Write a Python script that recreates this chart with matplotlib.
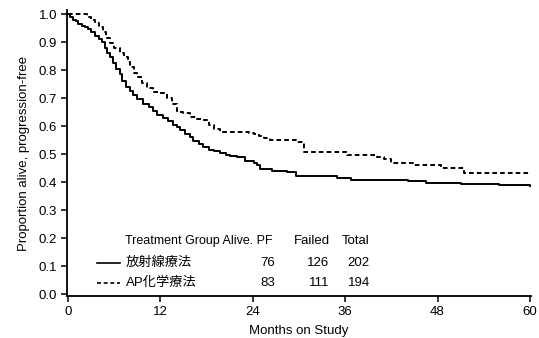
import numpy as np
import matplotlib
matplotlib.use("Agg")
import matplotlib.pyplot as plt

# fonts: Helvetica-like plus Japanese fallback
plt.rcParams['font.family'] = ['Liberation Sans', 'Noto Sans CJK JP']

# Kaplan-Meier steps
months_rt = [0, 0.3, 0.6, 1.0, 1.3, 1.8, 2.2, 2.6, 3.0, 3.5, 4.0, 4.4, 4.8, 5.1,
             5.5, 5.9, 6.3, 6.7, 7.0, 7.5, 8.0, 8.5, 9.0, 9.8, 10.5, 11.0, 11.6,
             12.3, 13.0, 13.6, 14.2, 14.6, 15.2, 15.8, 16.3, 17.0, 17.6, 18.3,
             19.0, 19.8, 20.5, 21.1, 22.0, 23.0, 24.1, 24.6, 25.0, 26.5, 28.5,
             29.6, 35.0, 36.7, 44.1, 46.5, 51.0, 56.0, 60.0]
surv_rt = [1.0, 0.99, 0.98, 0.975, 0.965, 0.958, 0.952, 0.945, 0.935, 0.922,
           0.91, 0.9, 0.88, 0.862, 0.845, 0.825, 0.805, 0.785, 0.76, 0.738,
           0.725, 0.71, 0.695, 0.68, 0.667, 0.655, 0.64, 0.628, 0.618, 0.605,
           0.595, 0.586, 0.572, 0.56, 0.548, 0.535, 0.524, 0.515, 0.51, 0.503,
           0.498, 0.494, 0.49, 0.476, 0.468, 0.46, 0.446, 0.44, 0.436, 0.42,
           0.414, 0.408, 0.402, 0.398, 0.392, 0.388, 0.386]

months_ap = [0, 2.5, 3.0, 3.5, 4.0, 4.5, 5.0, 5.5, 6.0, 6.8, 7.3, 7.8, 8.1, 8.6,
             9.0, 9.6, 10.3, 11.0, 12.0, 12.9, 13.5, 14.2, 15.0, 15.9, 16.8,
             17.6, 18.3, 18.9, 19.8, 20.7, 23.5, 24.1, 24.8, 25.4, 26.3, 29.8,
             30.6, 36.3, 40.2, 41.0, 42.0, 45.0, 48.4, 51.4, 60.0]
surv_ap = [1.0, 0.99, 0.98, 0.968, 0.955, 0.935, 0.915, 0.896, 0.88, 0.86,
           0.845, 0.83, 0.81, 0.79, 0.775, 0.755, 0.735, 0.72, 0.718, 0.70,
           0.68, 0.65, 0.645, 0.632, 0.625, 0.62, 0.605, 0.59, 0.58, 0.579,
           0.575, 0.57, 0.565, 0.556, 0.55, 0.543, 0.507, 0.496, 0.49, 0.482,
           0.468, 0.46, 0.45, 0.432, 0.43]

groups = ['放射線療法', 'AP化学療法']
alive_pf = [76, 83]
failed = [126, 111]
total = [202, 194]

fig = plt.figure(figsize=(5.39, 3.38), dpi=100)
ax = fig.add_axes([0.1243, 0.1243, 0.8607, 0.8457])

ax.plot(months_rt, surv_rt, drawstyle='steps-post', color='k', lw=1.4)
ax.plot(months_ap, surv_ap, drawstyle='steps-post', color='k', lw=1.4,
        dashes=(2.4, 1.6))

ax.set_xlim(-0.13, 60.13)
ax.set_ylim(-0.007, 1.014)
ax.set_xticks(np.arange(0, 61, 12))
ax.set_yticks(np.arange(0, 1.01, 0.1))
ax.set_yticklabels(['%.1f' % v for v in np.arange(0, 1.01, 0.1)])
for s in ['top', 'right']:
    ax.spines[s].set_visible(False)
for s in ['left', 'bottom']:
    ax.spines[s].set_linewidth(1.3)
ax.tick_params(direction='out', length=4, width=1.1, labelsize=9.5, pad=3)
ax.set_xlabel('Months on Study', fontsize=9.5, labelpad=5)
ax.set_ylabel('Proportion alive, progression-free', fontsize=9.5, labelpad=6)

# table-like legend inside the plot
fs = 9.5
ax.text(7.4, 0.189, 'Treatment Group Alive. PF', fontsize=9.0, va='center', ha='left')
ax.text(34.0, 0.189, 'Failed', fontsize=fs, va='center', ha='right')
ax.text(39.2, 0.189, 'Total', fontsize=fs, va='center', ha='right')
row_y = [0.111, 0.039]
styles = [dict(), dict(dashes=(2.4, 1.6))]
for i in range(2):
    ax.plot([3.77, 6.75], [row_y[i], row_y[i]], color='k', lw=1.2, **styles[i])
    ax.text(7.5, row_y[i], groups[i], fontsize=fs, va='center', ha='left')
    ax.text(26.9, row_y[i], str(alive_pf[i]), fontsize=fs, va='center', ha='right')
    ax.text(33.9, row_y[i], str(failed[i]), fontsize=fs, va='center', ha='right')
    ax.text(39.2, row_y[i], str(total[i]), fontsize=fs, va='center', ha='right')

fig.savefig('out.png', dpi=100)
